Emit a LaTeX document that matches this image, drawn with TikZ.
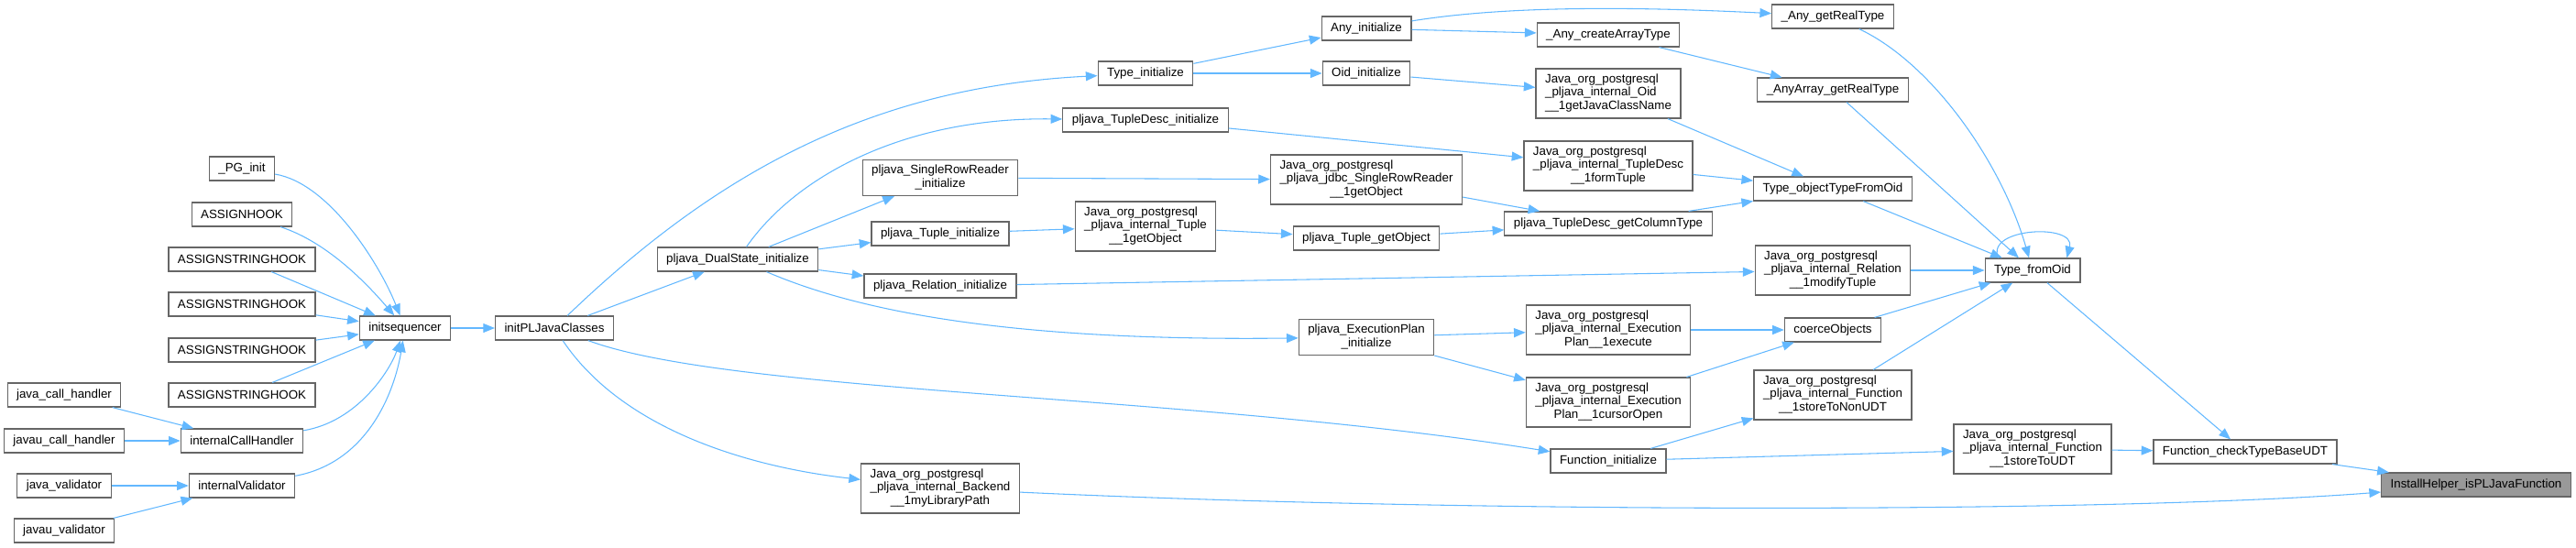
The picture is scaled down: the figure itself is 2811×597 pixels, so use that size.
\documentclass[tikz,border=0pt]{standalone}
\usepackage{fontspec}
\setmainfont{Liberation Sans}
\usetikzlibrary{arrows.meta}

\definecolor{edgeblue}{HTML}{63B8FF}
\definecolor{boxgray}{HTML}{666666}
\definecolor{hlgray}{HTML}{999999}

% lineas a la izquierda, la ultima centrada
\newcommand{\fnlines}[2]{\begin{tabular}{@{}l@{}}#1\\\multicolumn{1}{@{}c@{}}{#2}\end{tabular}}

\begin{document}
\begin{tikzpicture}[
        x=0.75pt, y=0.75pt,
        every node/.style={
            rectangle,
            draw=boxgray,
            fill=white,
            line width=0.9pt,
            minimum height=19.5pt,
            inner xsep=7.5pt,
            inner ysep=3.7pt,
            font=\fontsize{10}{11}\selectfont
        },
        callarrow/.style={
            draw=edgeblue,
            line width=0.8pt,
            -{Triangle[length=9.5pt,width=7.5pt]}
        }
    ]

    \useasboundingbox (0,0) rectangle (2811,-597);

    % Vértices
    \node (jch)  at (70,-431) {java\_call\_handler};
    \node (jvch) at (70,-481) {javau\_call\_handler};
    \node (jv)   at (70,-530) {java\_validator};
    \node (jvv)  at (70,-579) {javau\_validator};

    \node (pginit) at (264,-184) {\_PG\_init};
    \node (ahook)  at (264,-234) {ASSIGNHOOK};
    \node (ash1)   at (264,-283) {ASSIGNSTRINGHOOK};
    \node (ash2)   at (264,-332) {ASSIGNSTRINGHOOK};
    \node (ash3)   at (264,-382) {ASSIGNSTRINGHOOK};
    \node (ash4)   at (264,-431) {ASSIGNSTRINGHOOK};
    \node (ich)    at (264,-481) {internalCallHandler};
    \node (ival)   at (264,-530) {internalValidator};

    \node (initseq) at (442,-358) {initsequencer};
    \node (initpl)  at (605,-358) {initPLJavaClasses};
    \node (dual)    at (805,-283) {pljava\_DualState\_initialize};

    \node (srrinit) at (1026,-194) {\fnlines{pljava\_SingleRowReader}{\_initialize}};
    \node (tupinit) at (1026,-255) {pljava\_Tuple\_initialize};
    \node (relinit) at (1026,-312) {pljava\_Relation\_initialize};
    \node (backend) at (1026,-533) {\fnlines{Java\_org\_postgresql\\\_pljava\_internal\_Backend}{\_\_1myLibraryPath}};

    \node (typeinit) at (1250,-80)  {Type\_initialize};
    \node (tdinit)   at (1250,-131) {pljava\_TupleDesc\_initialize};
    \node (jtupget)  at (1250,-247) {\fnlines{Java\_org\_postgresql\\\_pljava\_internal\_Tuple}{\_\_1getObject}};

    \node (anyinit) at (1491,-31)  {Any\_initialize};
    \node (oidinit) at (1491,-80)  {Oid\_initialize};
    \node (jsrrget) at (1491,-196) {\fnlines{Java\_org\_postgresql\\\_pljava\_jdbc\_SingleRowReader}{\_\_1getObject}};
    \node (tupget)  at (1491,-260) {pljava\_Tuple\_getObject};
    \node (epinit)  at (1491,-368) {\fnlines{pljava\_ExecutionPlan}{\_initialize}};

    \node (anycreate) at (1755,-38)  {\_Any\_createArrayType};
    \node (joid)      at (1755,-102) {\fnlines{Java\_org\_postgresql\\\_pljava\_internal\_Oid}{\_\_1getJavaClassName}};
    \node (jform)     at (1755,-181) {\fnlines{Java\_org\_postgresql\\\_pljava\_internal\_TupleDesc}{\_\_1formTuple}};
    \node (coltype)   at (1755,-244) {pljava\_TupleDesc\_getColumnType};
    \node (jexec)     at (1755,-360) {\fnlines{Java\_org\_postgresql\\\_pljava\_internal\_Execution}{Plan\_\_1execute}};
    \node (jcursor)   at (1755,-439) {\fnlines{Java\_org\_postgresql\\\_pljava\_internal\_Execution}{Plan\_\_1cursorOpen}};
    \node (fninit)    at (1755,-503) {Function\_initialize};

    \node (anyreal) at (2000,-18)  {\_Any\_getRealType};
    \node (arrreal) at (2000,-98)  {\_AnyArray\_getRealType};
    \node (objtype) at (2000,-206) {Type\_objectTypeFromOid};
    \node (jmodify) at (2000,-295) {\fnlines{Java\_org\_postgresql\\\_pljava\_internal\_Relation}{\_\_1modifyTuple}};
    \node (coerce)  at (2000,-360) {coerceObjects};
    \node (jnonudt) at (2000,-431) {\fnlines{Java\_org\_postgresql\\\_pljava\_internal\_Function}{\_\_1storeToNonUDT}};

    \node (tfo)      at (2218,-295) {Type\_fromOid};
    \node (judt)     at (2218,-490) {\fnlines{Java\_org\_postgresql\\\_pljava\_internal\_Function}{\_\_1storeToUDT}};
    \node (checkudt) at (2450,-493) {Function\_checkTypeBaseUDT};
    \node[fill=hlgray] (install) at (2702,-529) {InstallHelper\_isPLJavaFunction};

    % Aristas
    \draw[callarrow] (jch) -- (ich);
    \draw[callarrow] (jvch) -- (ich);
    \draw[callarrow] (jv) -- (ival);
    \draw[callarrow] (jvv) -- (ival);

    \draw[callarrow] (pginit) .. controls (360,-200) and (415,-290) .. (initseq);
    \draw[callarrow] (ahook) .. controls (360,-265) and (405,-315) .. (initseq);
    \draw[callarrow] (ash1) -- (initseq);
    \draw[callarrow] (ash2) -- (initseq);
    \draw[callarrow] (ash3) -- (initseq);
    \draw[callarrow] (ash4) -- (initseq);
    \draw[callarrow] (ich) .. controls (390,-460) and (425,-405) .. (initseq);
    \draw[callarrow] (ival) .. controls (400,-505) and (430,-430) .. (initseq);

    \draw[callarrow] (initseq) -- (initpl);
    \draw[callarrow] (initpl) .. controls (780,-190) and (950,-95) .. (typeinit);
    \draw[callarrow] (initpl) -- (dual);
    \draw[callarrow] (initpl) .. controls (800,-430) and (1300,-430) .. (fninit);
    \draw[callarrow] (initpl) .. controls (680,-470) and (820,-510) .. (backend);

    \draw[callarrow] (dual) .. controls (870,-190) and (990,-128) .. (tdinit);
    \draw[callarrow] (dual) -- (srrinit);
    \draw[callarrow] (dual) -- (tupinit);
    \draw[callarrow] (dual) -- (relinit);
    \draw[callarrow] (dual) .. controls (960,-350) and (1150,-372) .. (epinit);

    \draw[callarrow] (typeinit) -- (anyinit);
    \draw[callarrow] (typeinit) -- (oidinit);
    \draw[callarrow] (anyinit) .. controls (1650,-5) and (1800,-8) .. (anyreal);
    \draw[callarrow] (anyinit) -- (anycreate);
    \draw[callarrow] (oidinit) -- (joid);
    \draw[callarrow] (tdinit) -- (jform);
    \draw[callarrow] (srrinit) -- (jsrrget);
    \draw[callarrow] (tupinit) -- (jtupget);
    \draw[callarrow] (jtupget) -- (tupget);
    \draw[callarrow] (relinit) -- (jmodify);
    \draw[callarrow] (jsrrget) -- (coltype);
    \draw[callarrow] (tupget) -- (coltype);
    \draw[callarrow] (epinit) -- (jexec);
    \draw[callarrow] (epinit) -- (jcursor);

    \draw[callarrow] (anycreate) -- (arrreal);
    \draw[callarrow] (joid) -- (objtype);
    \draw[callarrow] (jform) -- (objtype);
    \draw[callarrow] (coltype) -- (objtype);
    \draw[callarrow] (jexec) -- (coerce);
    \draw[callarrow] (jcursor) -- (coerce);
    \draw[callarrow] (fninit) -- (jnonudt);
    \draw[callarrow] (fninit) -- (judt);

    \draw[callarrow] (anyreal) .. controls (2110,-70) and (2185,-180) .. (tfo);
    \draw[callarrow] (arrreal) -- (tfo);
    \draw[callarrow] (objtype) -- (tfo);
    \draw[callarrow] (jmodify) -- (tfo);
    \draw[callarrow] (coerce) -- (tfo);
    \draw[callarrow] (jnonudt) -- (tfo);
    \draw[callarrow] ([xshift=-28pt]tfo.north) .. controls +(-15,33) and +(10,38) .. ([xshift=28pt]tfo.north);

    \draw[callarrow] (tfo) -- (checkudt);
    \draw[callarrow] (judt) -- (checkudt);
    \draw[callarrow] (checkudt) -- (install);
    \draw[callarrow] (backend) .. controls (1600,-560) and (2300,-560) .. (install);

\end{tikzpicture}
\end{document}
